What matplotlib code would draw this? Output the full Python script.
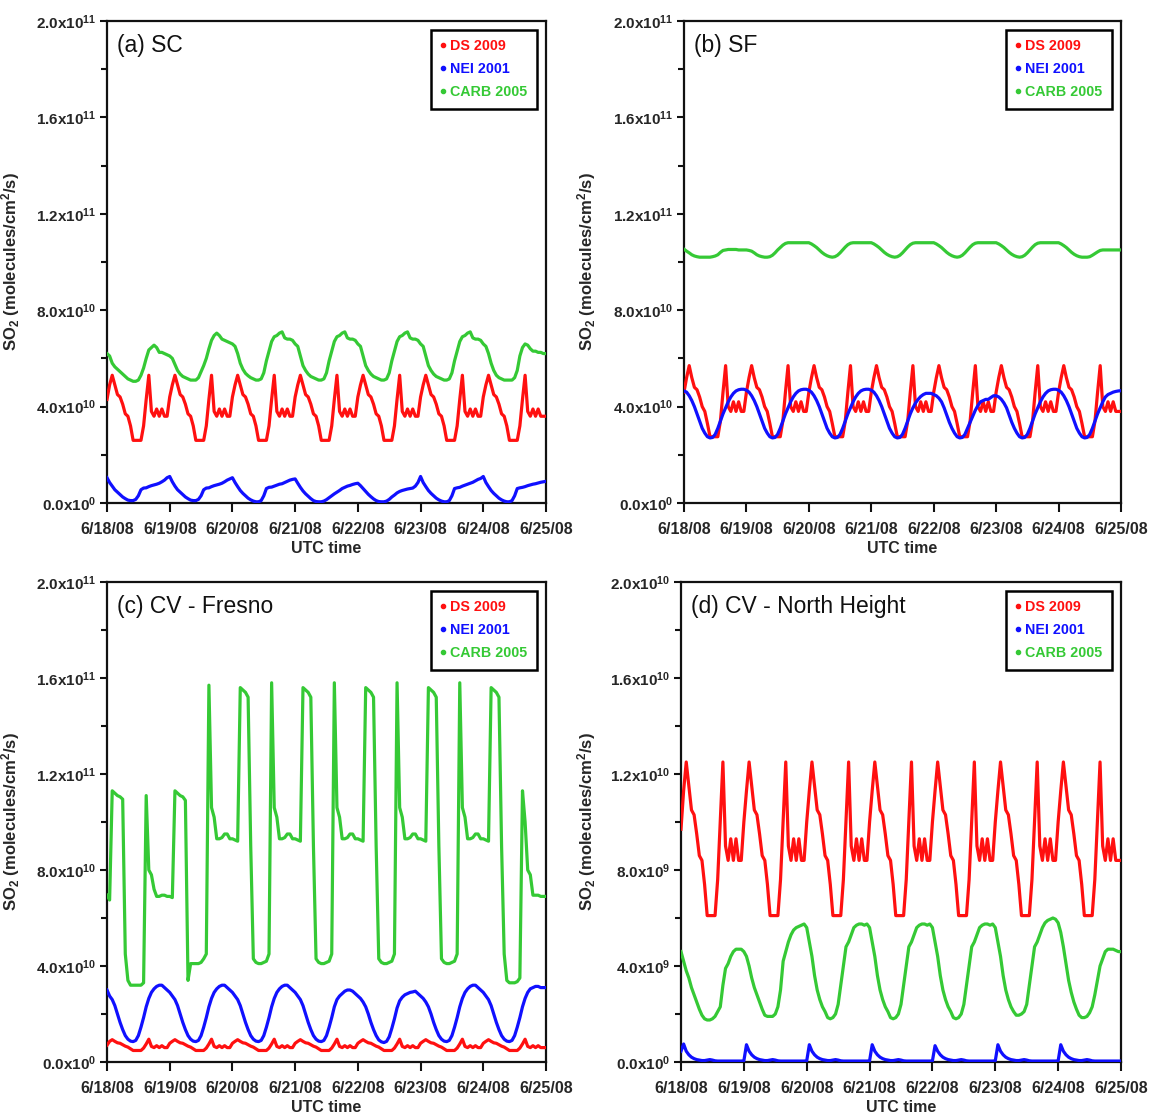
import numpy as np
import matplotlib
matplotlib.use("Agg")
import matplotlib.pyplot as plt
from matplotlib.lines import Line2D
from matplotlib.ticker import MultipleLocator, FuncFormatter

plt.rcParams['font.family'] = ['Liberation Sans', 'DejaVu Sans']
plt.rcParams['font.weight'] = 'bold'
plt.rcParams['mathtext.default'] = 'regular'

# ---------------- data (hourly, 6/18/08 00 UTC .. 6/25/08 00 UTC) ----------------
date_labels = ["6/18/08", "6/19/08", "6/20/08", "6/21/08", "6/22/08", "6/23/08", "6/24/08", "6/25/08"]
series_names = ["DS 2009", "NEI 2001", "CARB 2005"]
panel_titles = ["(a) SC", "(b) SF", "(c) CV - Fresno", "(d) CV - North Height"]
panel_units = [1e10, 1e10, 1e10, 1e9]   # units of the value lists below

# (a) SC  [1e10 molecules/cm2/s]
a_ds = [
    4.3, 4.9, 5.3, 4.9, 4.5, 4.4, 4.1, 3.7, 3.6, 3.2, 2.6, 2.6, 2.6, 2.6, 3.2, 4.3, 5.3, 3.8, 3.6, 3.9, 3.6, 3.9, 3.6, 3.6,
    4.4, 4.9, 5.3, 4.9, 4.5, 4.4, 4.1, 3.7, 3.6, 3.2, 2.6, 2.6, 2.6, 2.6, 3.2, 4.3, 5.3, 3.8, 3.6, 3.9, 3.6, 3.9, 3.6, 3.6,
    4.4, 4.9, 5.3, 4.9, 4.5, 4.4, 4.1, 3.7, 3.6, 3.2, 2.6, 2.6, 2.6, 2.6, 3.2, 4.3, 5.3, 3.8, 3.6, 3.9, 3.6, 3.9, 3.6, 3.6,
    4.4, 4.9, 5.3, 4.9, 4.5, 4.4, 4.1, 3.7, 3.6, 3.2, 2.6, 2.6, 2.6, 2.6, 3.2, 4.3, 5.3, 3.8, 3.6, 3.9, 3.6, 3.9, 3.6, 3.6,
    4.4, 4.9, 5.3, 4.9, 4.5, 4.4, 4.1, 3.7, 3.6, 3.2, 2.6, 2.6, 2.6, 2.6, 3.2, 4.3, 5.3, 3.8, 3.6, 3.9, 3.6, 3.9, 3.6, 3.6,
    4.4, 4.9, 5.3, 4.9, 4.5, 4.4, 4.1, 3.7, 3.6, 3.2, 2.6, 2.6, 2.6, 2.6, 3.2, 4.3, 5.3, 3.8, 3.6, 3.9, 3.6, 3.9, 3.6, 3.6,
    4.4, 4.9, 5.3, 4.9, 4.5, 4.4, 4.1, 3.7, 3.6, 3.2, 2.6, 2.6, 2.6, 2.6, 3.2, 4.3, 5.3, 3.8, 3.6, 3.9, 3.6, 3.9, 3.6, 3.6,
    3.6]
a_nei = [
    1.05, 0.85, 0.7, 0.55, 0.45, 0.35, 0.25, 0.18, 0.12, 0.1, 0.1, 0.15, 0.3, 0.55, 0.62, 0.63, 0.68, 0.72, 0.75, 0.78, 0.82, 0.88, 0.95, 1.05,
    1.1, 0.88, 0.7, 0.55, 0.45, 0.35, 0.25, 0.18, 0.12, 0.1, 0.1, 0.15, 0.3, 0.55, 0.62, 0.63, 0.68, 0.72, 0.75, 0.78, 0.82, 0.88, 0.95, 1.0,
    1.05, 0.85, 0.68, 0.52, 0.4, 0.3, 0.2, 0.13, 0.08, 0.05, 0.05, 0.1, 0.3, 0.6, 0.65, 0.66, 0.7, 0.74, 0.78, 0.8, 0.85, 0.9, 0.95, 0.98,
    1.0, 0.82, 0.65, 0.5, 0.38, 0.28, 0.18, 0.1, 0.06, 0.05, 0.05, 0.08, 0.14, 0.22, 0.3, 0.38, 0.45, 0.52, 0.6, 0.65, 0.7, 0.73, 0.77, 0.8,
    0.82, 0.72, 0.6, 0.48, 0.36, 0.26, 0.17, 0.1, 0.06, 0.05, 0.05, 0.08, 0.15, 0.25, 0.33, 0.42, 0.48, 0.52, 0.55, 0.58, 0.6, 0.62, 0.7, 0.85,
    1.1, 0.85, 0.68, 0.52, 0.4, 0.3, 0.2, 0.13, 0.08, 0.05, 0.05, 0.1, 0.3, 0.6, 0.63, 0.65, 0.7, 0.74, 0.78, 0.82, 0.86, 0.92, 0.98, 1.02,
    1.1, 0.85, 0.68, 0.52, 0.4, 0.3, 0.2, 0.13, 0.08, 0.05, 0.05, 0.1, 0.3, 0.6, 0.63, 0.65, 0.68, 0.72, 0.75, 0.78, 0.8, 0.83, 0.86, 0.88,
    0.9]
a_carb = [
    6.2, 6.1, 5.8, 5.65, 5.55, 5.45, 5.35, 5.25, 5.15, 5.1, 5.05, 5.05, 5.1, 5.3, 5.6, 6.0, 6.35, 6.45, 6.55, 6.45, 6.25, 6.25, 6.2, 6.15,
    6.1, 6.0, 5.75, 5.5, 5.35, 5.25, 5.2, 5.15, 5.1, 5.1, 5.1, 5.2, 5.45, 5.7, 6.0, 6.4, 6.75, 6.95, 7.05, 6.95, 6.8, 6.75, 6.7, 6.65,
    6.6, 6.5, 6.2, 5.8, 5.55, 5.38, 5.28, 5.2, 5.15, 5.1, 5.1, 5.15, 5.4, 5.9, 6.3, 6.7, 6.9, 6.95, 7.05, 7.1, 6.85, 6.8, 6.8, 6.75,
    6.6, 6.5, 6.1, 5.7, 5.5, 5.35, 5.25, 5.2, 5.15, 5.1, 5.1, 5.15, 5.4, 5.9, 6.3, 6.7, 6.9, 6.95, 7.05, 7.1, 6.85, 6.8, 6.8, 6.75,
    6.6, 6.5, 6.1, 5.7, 5.5, 5.35, 5.25, 5.2, 5.15, 5.1, 5.1, 5.15, 5.4, 5.9, 6.3, 6.7, 6.9, 6.95, 7.05, 7.1, 6.85, 6.8, 6.8, 6.75,
    6.6, 6.5, 6.1, 5.7, 5.5, 5.35, 5.25, 5.2, 5.15, 5.1, 5.1, 5.15, 5.4, 5.9, 6.3, 6.7, 6.9, 6.95, 7.05, 7.1, 6.85, 6.8, 6.8, 6.75,
    6.6, 6.5, 6.2, 5.8, 5.5, 5.3, 5.2, 5.15, 5.1, 5.1, 5.1, 5.1, 5.2, 5.5, 6.1, 6.45, 6.6, 6.55, 6.4, 6.3, 6.3, 6.25, 6.25, 6.2,
    6.2]

# (b) SF  [1e10 molecules/cm2/s]
b_ds = [
    4.6, 5.2, 5.7, 5.2, 4.8, 4.7, 4.4, 4.0, 3.8, 3.3, 2.75, 2.75, 2.75, 2.75, 3.4, 4.6, 5.7, 4.0, 3.8, 4.2, 3.8, 4.2, 3.8, 3.8,
    4.6, 5.2, 5.7, 5.2, 4.8, 4.7, 4.4, 4.0, 3.8, 3.3, 2.75, 2.75, 2.75, 2.75, 3.4, 4.6, 5.7, 4.0, 3.8, 4.2, 3.8, 4.2, 3.8, 3.8,
    4.6, 5.2, 5.7, 5.2, 4.8, 4.7, 4.4, 4.0, 3.8, 3.3, 2.75, 2.75, 2.75, 2.75, 3.4, 4.6, 5.7, 4.0, 3.8, 4.2, 3.8, 4.2, 3.8, 3.8,
    4.6, 5.2, 5.7, 5.2, 4.8, 4.7, 4.4, 4.0, 3.8, 3.3, 2.75, 2.75, 2.75, 2.75, 3.4, 4.6, 5.7, 4.0, 3.8, 4.2, 3.8, 4.2, 3.8, 3.8,
    4.6, 5.2, 5.7, 5.2, 4.8, 4.7, 4.4, 4.0, 3.8, 3.3, 2.75, 2.75, 2.75, 2.75, 3.4, 4.6, 5.7, 4.0, 3.8, 4.2, 3.8, 4.2, 3.8, 3.8,
    4.6, 5.2, 5.7, 5.2, 4.8, 4.7, 4.4, 4.0, 3.8, 3.3, 2.75, 2.75, 2.75, 2.75, 3.4, 4.6, 5.7, 4.0, 3.8, 4.2, 3.8, 4.2, 3.8, 3.8,
    4.6, 5.2, 5.7, 5.2, 4.8, 4.7, 4.4, 4.0, 3.8, 3.3, 2.75, 2.75, 2.75, 2.75, 3.4, 4.6, 5.7, 4.0, 3.8, 4.2, 3.8, 4.2, 3.8, 3.8,
    3.8]
b_nei = [
    4.65, 4.6, 4.45, 4.25, 4.0, 3.7, 3.4, 3.1, 2.9, 2.75, 2.7, 2.72, 2.85, 3.1, 3.4, 3.7, 3.95, 4.2, 4.4, 4.55, 4.65, 4.7, 4.72, 4.72,
    4.68, 4.6, 4.45, 4.25, 4.0, 3.7, 3.4, 3.1, 2.9, 2.75, 2.7, 2.72, 2.85, 3.1, 3.4, 3.7, 3.95, 4.2, 4.4, 4.55, 4.65, 4.7, 4.72, 4.72,
    4.68, 4.6, 4.45, 4.25, 4.0, 3.7, 3.4, 3.1, 2.9, 2.75, 2.7, 2.72, 2.85, 3.1, 3.4, 3.7, 3.95, 4.2, 4.4, 4.55, 4.65, 4.7, 4.72, 4.72,
    4.68, 4.6, 4.45, 4.25, 4.0, 3.7, 3.4, 3.1, 2.9, 2.75, 2.7, 2.72, 2.85, 3.1, 3.4, 3.7, 3.95, 4.15, 4.3, 4.42, 4.5, 4.55, 4.55, 4.55,
    4.5, 4.45, 4.35, 4.2, 3.95, 3.65, 3.35, 3.1, 2.9, 2.75, 2.7, 2.72, 2.85, 3.1, 3.35, 3.6, 3.85, 4.05, 4.2, 4.25, 4.3, 4.3, 4.38, 4.45,
    4.45, 4.4, 4.3, 4.15, 3.95, 3.65, 3.35, 3.1, 2.9, 2.75, 2.7, 2.72, 2.85, 3.1, 3.4, 3.7, 3.95, 4.2, 4.4, 4.55, 4.65, 4.7, 4.72, 4.72,
    4.68, 4.6, 4.45, 4.25, 4.0, 3.7, 3.4, 3.1, 2.9, 2.75, 2.7, 2.72, 2.85, 3.1, 3.4, 3.7, 3.95, 4.2, 4.4, 4.5, 4.55, 4.6, 4.63, 4.65,
    4.66]
b_carb = [
    10.53, 10.45, 10.38, 10.3, 10.25, 10.22, 10.2, 10.2, 10.2, 10.2, 10.2, 10.22, 10.25, 10.3, 10.4, 10.48, 10.5, 10.52, 10.52, 10.52, 10.52, 10.5, 10.5, 10.5,
    10.5, 10.48, 10.45, 10.38, 10.3, 10.25, 10.22, 10.2, 10.2, 10.22, 10.28, 10.38, 10.5, 10.6, 10.7, 10.77, 10.8, 10.8, 10.8, 10.8, 10.8, 10.8, 10.8, 10.8,
    10.8, 10.75, 10.68, 10.6, 10.5, 10.4, 10.32, 10.26, 10.22, 10.2, 10.22, 10.28, 10.38, 10.5, 10.62, 10.72, 10.78, 10.8, 10.8, 10.8, 10.8, 10.8, 10.8, 10.8,
    10.8, 10.75, 10.68, 10.6, 10.5, 10.4, 10.32, 10.26, 10.22, 10.2, 10.22, 10.28, 10.38, 10.5, 10.62, 10.72, 10.78, 10.8, 10.8, 10.8, 10.8, 10.8, 10.8, 10.8,
    10.8, 10.75, 10.68, 10.6, 10.5, 10.4, 10.32, 10.26, 10.22, 10.2, 10.22, 10.28, 10.38, 10.5, 10.62, 10.72, 10.78, 10.8, 10.8, 10.8, 10.8, 10.8, 10.8, 10.8,
    10.8, 10.75, 10.68, 10.6, 10.5, 10.4, 10.32, 10.26, 10.22, 10.2, 10.22, 10.28, 10.38, 10.5, 10.62, 10.72, 10.78, 10.8, 10.8, 10.8, 10.8, 10.8, 10.8, 10.8,
    10.8, 10.75, 10.68, 10.6, 10.5, 10.4, 10.32, 10.26, 10.22, 10.2, 10.2, 10.2, 10.22, 10.28, 10.35, 10.42, 10.48, 10.5, 10.5, 10.5, 10.5, 10.5, 10.5, 10.5,
    10.5]

# (c) CV - Fresno  [1e10 molecules/cm2/s]
c_ds = [
    0.7, 0.86, 0.93, 0.86, 0.8, 0.78, 0.72, 0.66, 0.62, 0.55, 0.48, 0.48, 0.48, 0.48, 0.58, 0.75, 0.95, 0.65, 0.6, 0.68, 0.6, 0.68, 0.6, 0.6,
    0.78, 0.86, 0.93, 0.86, 0.8, 0.78, 0.72, 0.66, 0.62, 0.55, 0.48, 0.48, 0.48, 0.48, 0.58, 0.75, 0.95, 0.65, 0.6, 0.68, 0.6, 0.68, 0.6, 0.6,
    0.78, 0.86, 0.93, 0.86, 0.8, 0.78, 0.72, 0.66, 0.62, 0.55, 0.48, 0.48, 0.48, 0.48, 0.58, 0.75, 0.95, 0.65, 0.6, 0.68, 0.6, 0.68, 0.6, 0.6,
    0.78, 0.86, 0.93, 0.86, 0.8, 0.78, 0.72, 0.66, 0.62, 0.55, 0.48, 0.48, 0.48, 0.48, 0.58, 0.75, 0.95, 0.65, 0.6, 0.68, 0.6, 0.68, 0.6, 0.6,
    0.78, 0.86, 0.93, 0.86, 0.8, 0.78, 0.72, 0.66, 0.62, 0.55, 0.48, 0.48, 0.48, 0.48, 0.58, 0.75, 0.95, 0.65, 0.6, 0.68, 0.6, 0.68, 0.6, 0.6,
    0.78, 0.86, 0.93, 0.86, 0.8, 0.78, 0.72, 0.66, 0.62, 0.55, 0.48, 0.48, 0.48, 0.48, 0.58, 0.75, 0.95, 0.65, 0.6, 0.68, 0.6, 0.68, 0.6, 0.6,
    0.78, 0.86, 0.93, 0.86, 0.8, 0.78, 0.72, 0.66, 0.62, 0.55, 0.48, 0.48, 0.48, 0.48, 0.58, 0.75, 0.95, 0.65, 0.6, 0.68, 0.6, 0.68, 0.6, 0.6,
    0.6]
c_nei = [
    3.0, 2.75, 2.6, 2.35, 2.0, 1.65, 1.35, 1.1, 0.95, 0.87, 0.85, 0.9, 1.1, 1.45, 1.85, 2.3, 2.65, 2.9, 3.05, 3.15, 3.2, 3.2, 3.1, 3.0,
    2.9, 2.75, 2.6, 2.35, 2.0, 1.65, 1.35, 1.1, 0.95, 0.87, 0.85, 0.9, 1.1, 1.45, 1.85, 2.3, 2.65, 2.9, 3.05, 3.15, 3.2, 3.2, 3.1, 3.0,
    2.9, 2.75, 2.6, 2.35, 2.0, 1.65, 1.35, 1.1, 0.95, 0.87, 0.85, 0.9, 1.1, 1.45, 1.85, 2.3, 2.65, 2.9, 3.05, 3.15, 3.2, 3.2, 3.1, 3.0,
    2.9, 2.75, 2.6, 2.35, 2.0, 1.65, 1.35, 1.1, 0.95, 0.87, 0.85, 0.9, 1.1, 1.45, 1.85, 2.3, 2.6, 2.75, 2.85, 2.95, 3.0, 3.0, 2.95, 2.85,
    2.75, 2.65, 2.5, 2.3, 2.0, 1.65, 1.35, 1.1, 0.92, 0.84, 0.81, 0.86, 1.05, 1.4, 1.8, 2.25, 2.55, 2.7, 2.8, 2.85, 2.9, 2.92, 2.95, 2.85,
    2.75, 2.65, 2.5, 2.3, 2.0, 1.65, 1.35, 1.1, 0.95, 0.87, 0.85, 0.9, 1.1, 1.45, 1.85, 2.3, 2.65, 2.9, 3.05, 3.15, 3.2, 3.2, 3.1, 3.0,
    2.9, 2.75, 2.6, 2.35, 2.0, 1.65, 1.35, 1.1, 0.95, 0.87, 0.85, 0.9, 1.1, 1.45, 1.85, 2.3, 2.65, 2.9, 3.05, 3.1, 3.15, 3.15, 3.1, 3.1,
    3.1]
c_carb = [
    6.95, 6.75, 11.3, 11.2, 11.1, 11.05, 10.95, 4.5, 3.4, 3.2, 3.2, 3.2, 3.2, 3.2, 3.3, 11.1, 8.0, 7.8, 7.2, 6.9, 6.9, 6.95, 6.95, 6.9,
    6.9, 6.85, 11.3, 11.2, 11.1, 11.05, 10.9, 3.4, 4.1, 4.1, 4.1, 4.1, 4.15, 4.3, 4.5, 15.7, 10.6, 10.2, 9.3, 9.3, 9.35, 9.5, 9.5, 9.3,
    9.3, 9.25, 9.2, 15.6, 15.5, 15.4, 15.2, 9.0, 4.3, 4.15, 4.1, 4.1, 4.15, 4.2, 4.5, 15.8, 10.6, 10.2, 9.3, 9.3, 9.35, 9.5, 9.5, 9.3,
    9.3, 9.25, 9.2, 15.6, 15.5, 15.4, 15.2, 9.0, 4.3, 4.15, 4.1, 4.1, 4.15, 4.2, 4.5, 15.8, 10.6, 10.2, 9.3, 9.3, 9.35, 9.5, 9.5, 9.3,
    9.3, 9.25, 9.2, 15.6, 15.5, 15.4, 15.2, 9.0, 4.3, 4.15, 4.1, 4.1, 4.15, 4.2, 4.5, 15.8, 10.6, 10.2, 9.3, 9.3, 9.35, 9.5, 9.5, 9.3,
    9.3, 9.25, 9.2, 15.6, 15.5, 15.4, 15.2, 9.0, 4.3, 4.15, 4.1, 4.1, 4.15, 4.2, 4.5, 15.8, 10.6, 10.2, 9.3, 9.3, 9.35, 9.5, 9.5, 9.3,
    9.3, 9.25, 9.2, 15.6, 15.5, 15.4, 15.2, 9.0, 4.5, 3.4, 3.3, 3.3, 3.3, 3.35, 3.5, 11.3, 10.0, 8.0, 7.8, 6.95, 6.95, 6.95, 6.9, 6.9,
    6.9]

# (d) CV - North Height  [1e9 molecules/cm2/s]
d_ds = [
    9.7, 11.3, 12.5, 11.5, 10.5, 10.3, 9.5, 8.6, 8.4, 7.4, 6.1, 6.1, 6.1, 6.1, 7.6, 10.0, 12.5, 9.0, 8.4, 9.3, 8.4, 9.3, 8.4, 8.4,
    10.0, 11.3, 12.5, 11.5, 10.5, 10.3, 9.5, 8.6, 8.4, 7.4, 6.1, 6.1, 6.1, 6.1, 7.6, 10.0, 12.5, 9.0, 8.4, 9.3, 8.4, 9.3, 8.4, 8.4,
    10.0, 11.3, 12.5, 11.5, 10.5, 10.3, 9.5, 8.6, 8.4, 7.4, 6.1, 6.1, 6.1, 6.1, 7.6, 10.0, 12.5, 9.0, 8.4, 9.3, 8.4, 9.3, 8.4, 8.4,
    10.0, 11.3, 12.5, 11.5, 10.5, 10.3, 9.5, 8.6, 8.4, 7.4, 6.1, 6.1, 6.1, 6.1, 7.6, 10.0, 12.5, 9.0, 8.4, 9.3, 8.4, 9.3, 8.4, 8.4,
    10.0, 11.3, 12.5, 11.5, 10.5, 10.3, 9.5, 8.6, 8.4, 7.4, 6.1, 6.1, 6.1, 6.1, 7.6, 10.0, 12.5, 9.0, 8.4, 9.3, 8.4, 9.3, 8.4, 8.4,
    10.0, 11.3, 12.5, 11.5, 10.5, 10.3, 9.5, 8.6, 8.4, 7.4, 6.1, 6.1, 6.1, 6.1, 7.6, 10.0, 12.5, 9.0, 8.4, 9.3, 8.4, 9.3, 8.4, 8.4,
    10.0, 11.3, 12.5, 11.5, 10.5, 10.3, 9.5, 8.6, 8.4, 7.4, 6.1, 6.1, 6.1, 6.1, 7.6, 10.0, 12.5, 9.0, 8.4, 9.3, 8.4, 9.3, 8.4, 8.4,
    8.4]
d_nei = [
    0.45, 0.75, 0.45, 0.3, 0.2, 0.14, 0.1, 0.08, 0.06, 0.06, 0.08, 0.1, 0.08, 0.05, 0.04, 0.04, 0.04, 0.04, 0.04, 0.04, 0.04, 0.04, 0.04, 0.04,
    0.05, 0.72, 0.45, 0.3, 0.2, 0.14, 0.1, 0.08, 0.06, 0.06, 0.08, 0.1, 0.08, 0.05, 0.04, 0.04, 0.04, 0.04, 0.04, 0.04, 0.04, 0.04, 0.04, 0.04,
    0.05, 0.72, 0.45, 0.3, 0.2, 0.14, 0.1, 0.08, 0.06, 0.06, 0.08, 0.1, 0.08, 0.05, 0.04, 0.04, 0.04, 0.04, 0.04, 0.04, 0.04, 0.04, 0.04, 0.04,
    0.05, 0.72, 0.45, 0.3, 0.2, 0.14, 0.1, 0.08, 0.06, 0.06, 0.08, 0.1, 0.08, 0.05, 0.04, 0.04, 0.04, 0.04, 0.04, 0.04, 0.04, 0.04, 0.04, 0.04,
    0.05, 0.68, 0.45, 0.3, 0.2, 0.14, 0.1, 0.08, 0.06, 0.06, 0.08, 0.1, 0.08, 0.05, 0.04, 0.04, 0.04, 0.04, 0.04, 0.04, 0.04, 0.04, 0.04, 0.04,
    0.05, 0.72, 0.45, 0.3, 0.2, 0.14, 0.1, 0.08, 0.06, 0.06, 0.08, 0.1, 0.08, 0.05, 0.04, 0.04, 0.04, 0.04, 0.04, 0.04, 0.04, 0.04, 0.04, 0.04,
    0.05, 0.72, 0.45, 0.3, 0.2, 0.14, 0.1, 0.08, 0.06, 0.06, 0.08, 0.1, 0.08, 0.05, 0.04, 0.04, 0.04, 0.04, 0.04, 0.04, 0.04, 0.04, 0.04, 0.04,
    0.04]
d_carb = [
    4.6, 4.2, 3.8, 3.5, 3.1, 2.8, 2.5, 2.2, 1.95, 1.8, 1.75, 1.75, 1.8, 1.9, 2.1, 2.3, 3.2, 3.9, 4.1, 4.4, 4.6, 4.7, 4.7, 4.7,
    4.6, 4.4, 4.0, 3.5, 3.1, 2.8, 2.5, 2.2, 1.95, 1.9, 1.9, 1.9, 2.0, 2.3, 3.0, 4.2, 4.6, 5.0, 5.3, 5.5, 5.6, 5.65, 5.7, 5.75,
    5.6, 5.0, 4.4, 3.6, 3.0, 2.6, 2.3, 2.1, 1.85, 1.8, 1.85, 2.0, 2.4, 3.2, 4.0, 4.8, 5.0, 5.3, 5.6, 5.7, 5.75, 5.75, 5.7, 5.75,
    5.6, 5.0, 4.4, 3.6, 3.0, 2.6, 2.3, 2.1, 1.85, 1.8, 1.85, 2.0, 2.4, 3.2, 4.0, 4.8, 5.0, 5.3, 5.6, 5.7, 5.75, 5.75, 5.7, 5.75,
    5.6, 5.0, 4.4, 3.6, 3.0, 2.6, 2.3, 2.1, 1.85, 1.8, 1.85, 2.0, 2.4, 3.2, 4.0, 4.8, 5.0, 5.3, 5.6, 5.7, 5.75, 5.75, 5.7, 5.75,
    5.6, 5.0, 4.4, 3.6, 3.0, 2.6, 2.3, 2.1, 1.95, 1.95, 2.0, 2.1, 2.4, 3.2, 4.0, 4.8, 5.0, 5.3, 5.6, 5.8, 5.9, 5.95, 6.0, 5.95,
    5.8, 5.4, 4.8, 4.1, 3.4, 2.9, 2.5, 2.2, 1.95, 1.85, 1.85, 1.9, 2.05, 2.3, 2.8, 3.4, 4.0, 4.3, 4.6, 4.7, 4.7, 4.7, 4.65, 4.6,
    4.6]

panel_data = [(a_ds, a_nei, a_carb), (b_ds, b_nei, b_carb), (c_ds, c_nei, c_carb), (d_ds, d_nei, d_carb)]

# ---------------- styling / layout ----------------
colors = ['#ff1010', '#1010ff', '#35c935']
W, H = 1152, 1118
axes_px = [(107, 21, 546, 503), (684, 21, 1121, 503), (107, 582, 546, 1062), (681, 582, 1121, 1062)]
ylabel_px = [22, 598, 22, 598]
tick_col = '#262626'

fig = plt.figure(figsize=(W / 100, H / 100), dpi=100)


def sci_fmt(v, pos):
    if abs(v) < 1e-30:
        return r"0.0x10$^{0}$"
    e = int(np.floor(np.log10(abs(v)) + 1e-9))
    m = v / 10 ** e
    return f"{m:.1f}x10$^{{{e}}}$"


for i, (l, t, r, b) in enumerate(axes_px):
    ax = fig.add_axes([l / W, 1 - b / H, (r - l) / W, (b - t) / H])
    unit = panel_units[i]
    for vals, col in zip(panel_data[i], colors):
        v = np.asarray(vals, dtype=float) * unit
        x = np.arange(len(v)) / 24.0
        ax.plot(x, v, color=col, lw=2.3, solid_joinstyle='round', zorder=3)

    ymax = 20 * unit
    ax.set_xlim(0, 7)
    ax.set_ylim(0, ymax)
    ax.set_xticks(np.arange(8))
    ax.set_xticklabels(date_labels)
    ax.yaxis.set_major_locator(MultipleLocator(ymax / 5))
    ax.yaxis.set_minor_locator(MultipleLocator(ymax / 10))
    ax.yaxis.set_major_formatter(FuncFormatter(sci_fmt))

    for sp in ax.spines.values():
        sp.set_linewidth(1.6)
        sp.set_color('#111111')
    ax.tick_params(axis='y', which='major', direction='out', length=5, width=1.5,
                   labelsize=11, pad=3, colors='#111111', labelcolor=tick_col)
    ax.tick_params(axis='y', which='minor', direction='out', length=4, width=1.5, colors='#111111')
    ax.tick_params(axis='x', which='major', direction='out', length=6.5, width=1.5,
                   labelsize=11.5, pad=7, colors='#111111', labelcolor=tick_col)
    ax.tick_params(top=False, right=False)

    ax.set_xlabel("UTC time", fontsize=11.5, fontweight='bold', color=tick_col, labelpad=3)
    ax.set_ylabel(r"SO$_2$ (molecules/cm$^2$/s)", fontsize=12, fontweight='bold', color=tick_col)
    ax.yaxis.set_label_coords((ylabel_px[i] - l) / (r - l), 0.5)

    ax.text(0.023, 0.95, panel_titles[i], transform=ax.transAxes, fontsize=16.5,
            fontweight='normal', color='#111111', ha='left', va='center')

    handles = [Line2D([], [], ls='none', marker='o', ms=3, color=c) for c in colors]
    leg = ax.legend(handles, series_names, loc='upper right', bbox_to_anchor=(1, 1),
                    borderaxespad=0.6, frameon=True, fancybox=False, edgecolor='black',
                    framealpha=1, handlelength=0.3, handletextpad=0.35, labelspacing=0.62,
                    borderpad=0.68, prop={'weight': 'bold', 'size': 10.3})
    leg.get_frame().set_linewidth(1.8)
    for txt, c in zip(leg.get_texts(), colors):
        txt.set_color(c)

fig.savefig("out.png", dpi=100, facecolor='white')
